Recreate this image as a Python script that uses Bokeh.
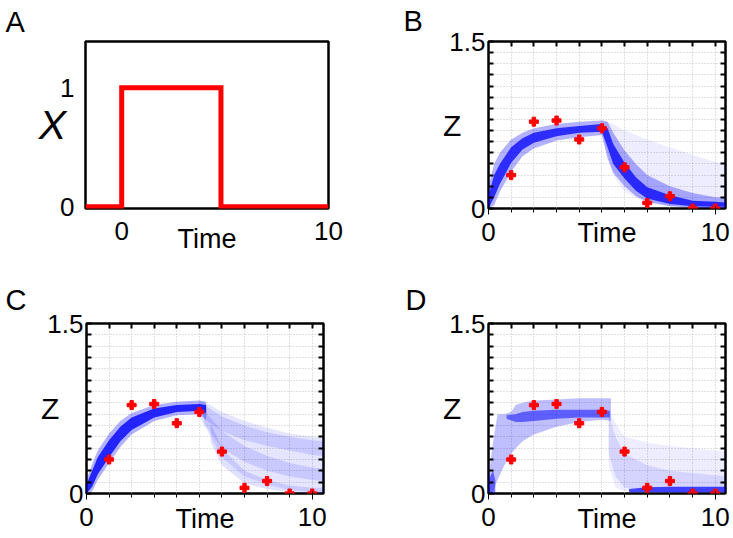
from bokeh.plotting import figure
from bokeh.models import FixedTicker, LinearAxis, Range1d, NumeralTickFormatter, Title
from bokeh.layouts import column, row
from bokeh.embed import file_html
from bokeh.resources import INLINE

FONT = "Liberation Sans"
BLUE = "#0000ff"
RED = "#ff0000"

# ---------------- data ----------------
# Panel A: input pulse X(t)
pulse_time = [-1.75, 0, 0, 4.8, 4.8, 10]
pulse_x = [0, 0, 1, 1, 0, 0]

# Observations (same in B, C, D)
obs_time = [1, 2, 3, 4, 5, 6, 7, 8, 9, 10]
obs_z = [0.30, 0.78, 0.79, 0.62, 0.72, 0.37, 0.05, 0.11, 0.0, 0.0]

# ticks
a_time_ticks = [0, 10]
a_x_ticks = [0, 1]
time_ticks = [0, 10]
time_minor = [1, 2, 3, 4, 5, 6, 7, 8, 9]
z_ticks = [0, 1.5]
z_minor = [0.1, 0.2, 0.3, 0.4, 0.5, 0.6, 0.7, 0.8, 0.9, 1.0, 1.1, 1.2, 1.3, 1.4]

# Panel B: posterior trajectory density
b_core_t = [0, 0.25, 0.5, 1, 1.5, 2, 3, 4, 5, 5.25, 5.5, 6, 6.5, 7, 8, 9, 10, 10.45]
b_core_lo = [0.0, 0.10, 0.22, 0.41, 0.53, 0.59, 0.65, 0.68, 0.69, 0.55, 0.40, 0.27, 0.16, 0.09, 0.04, 0.02, 0.015, 0.015]
b_core_hi = [0.12, 0.30, 0.40, 0.55, 0.63, 0.68, 0.72, 0.74, 0.76, 0.72, 0.58, 0.41, 0.28, 0.19, 0.12, 0.07, 0.06, 0.055]
b_halo_lo = [0.0, 0.03, 0.15, 0.33, 0.47, 0.54, 0.61, 0.64, 0.66, 0.45, 0.32, 0.20, 0.11, 0.06, 0.02, 0.01, 0.005, 0.005]
b_halo_hi = [0.20, 0.40, 0.50, 0.62, 0.68, 0.72, 0.76, 0.78, 0.79, 0.78, 0.68, 0.52, 0.40, 0.30, 0.20, 0.14, 0.10, 0.10]
b_haze_t = [5, 5.5, 6, 7, 8, 9, 10, 10.45]
b_haze_lo = [0.66, 0.30, 0.15, 0.05, 0.02, 0.01, 0.0, 0.0]
b_haze_hi = [0.80, 0.76, 0.70, 0.62, 0.55, 0.48, 0.42, 0.40]

# Panel C
c_core_t = [0, 0.25, 0.5, 1, 1.5, 2, 3, 4, 5, 5.3]
c_core_lo = [0.0, 0.06, 0.17, 0.32, 0.46, 0.56, 0.67, 0.72, 0.73, 0.71]
c_core_hi = [0.08, 0.20, 0.32, 0.47, 0.59, 0.67, 0.75, 0.78, 0.79, 0.78]
c_halo_lo = [0.0, 0.02, 0.12, 0.27, 0.41, 0.52, 0.64, 0.69, 0.70, 0.65]
c_halo_hi = [0.12, 0.26, 0.38, 0.53, 0.64, 0.71, 0.78, 0.81, 0.82, 0.81]
c_haze_t = [5, 5.5, 6, 7, 8, 9, 10, 10.5]
c_haze_lo = [0.68, 0.50, 0.32, 0.15, 0.08, 0.03, 0.015, 0.01]
c_haze_hi = [0.82, 0.78, 0.72, 0.64, 0.58, 0.53, 0.50, 0.49]
c_streak_t = [5.2, 6, 7, 8, 9, 10, 10.5]
c_up_lo = [0.66, 0.55, 0.47, 0.42, 0.38, 0.34, 0.33]
c_up_hi = [0.78, 0.68, 0.60, 0.54, 0.50, 0.47, 0.46]
c_mid_lo = [0.62, 0.40, 0.28, 0.20, 0.15, 0.12, 0.11]
c_mid_hi = [0.74, 0.55, 0.42, 0.33, 0.27, 0.23, 0.22]
c_low_t = [5.5, 6, 7, 8, 9, 10, 10.5]
c_low_lo = [0.45, 0.25, 0.09, 0.04, 0.01, 0.005, 0.005]
c_low_hi = [0.62, 0.40, 0.20, 0.12, 0.07, 0.05, 0.05]

# Panel D
d_wide_t = [0, 0.2, 0.4, 0.7, 1.0, 1.2, 1.5, 2, 3, 4, 5, 5.4]
d_wide_lo = [0.0, 0.02, 0.12, 0.25, 0.35, 0.40, 0.46, 0.52, 0.59, 0.63, 0.65, 0.64]
d_wide_hi = [0.15, 0.45, 0.70, 0.70, 0.72, 0.78, 0.80, 0.82, 0.83, 0.84, 0.84, 0.84]
d_core_t = [0.8, 1.2, 1.5, 2, 3, 4, 5, 5.35]
d_core_lo = [0.66, 0.63, 0.63, 0.64, 0.66, 0.67, 0.67, 0.67]
d_core_hi = [0.69, 0.70, 0.72, 0.73, 0.74, 0.74, 0.74, 0.73]
d_spike_t = [0, 0.1, 0.2, 0.3]
d_spike_lo = [0.0, 0.0, 0.0, 0.0]
d_spike_hi = [0.12, 0.16, 0.20, 0.12]
d_decay_t = [5.3, 5.6, 6, 7, 8, 9, 10, 10.45]
d_decay_lo = [0.25, 0.05, 0.02, 0.01, 0.0, 0.0, 0.0, 0.0]
d_decay_hi = [0.74, 0.62, 0.50, 0.45, 0.42, 0.40, 0.38, 0.37]
d_mid_lo = [0.35, 0.15, 0.05, 0.02, 0.01, 0.01, 0.01, 0.01]
d_mid_hi = [0.70, 0.50, 0.35, 0.25, 0.20, 0.18, 0.16, 0.15]
d_floor_t = [6.2, 7, 8, 9, 10, 10.45]
d_floor_lo = [0.01, 0.01, 0.01, 0.01, 0.01, 0.01]
d_floor_hi = [0.04, 0.055, 0.06, 0.06, 0.06, 0.06]

# ---------------- layout geometry (canvas px, page origin at 0,0) ----------------
GEOM = {
    "A": dict(origin=(0, 0), size=(368, 275), frame=(85, 39, 328, 208), xr=(-1.75, 10), yr=(-0.015, 1.39)),
    "B": dict(origin=(368, 0), size=(364, 275), frame=(488, 41, 725, 210), xr=(0, 10.45), yr=(0, 1.5)),
    "C": dict(origin=(0, 275), size=(368, 261), frame=(86, 323, 323, 493), xr=(0, 10.5), yr=(0, 1.5)),
    "D": dict(origin=(368, 275), size=(364, 261), frame=(488, 323, 725, 493), xr=(0, 10.45), yr=(0, 1.5)),
}


def make_fig(key, letter, letter_left, letter_standoff):
    g = GEOM[key]
    ox, oy = g["origin"]
    w, h = g["size"]
    left, top, right, bottom = g["frame"]
    p = figure(width=w, height=h, x_range=Range1d(*g["xr"]), y_range=Range1d(*g["yr"]),
               output_backend="svg", toolbar_location=None,
               min_border_left=left - ox, min_border_right=ox + w - right,
               min_border_top=top - oy, min_border_bottom=oy + h - bottom)
    p.title = Title(text=letter, align="left", vertical_align="top", offset=letter_left - left,
                    standoff=letter_standoff, text_font=FONT, text_font_size="29px",
                    text_font_style="normal", text_color="black")
    p.outline_line_color = "black"
    p.outline_line_width = 2.5
    p.outline_line_alpha = 1.0
    p.background_fill_color = "white"
    p.border_fill_color = "white"
    return p


def style_axis(ax, standoff):
    ax.axis_line_color = None
    ax.major_label_text_font = FONT
    ax.major_label_text_font_size = "26px"
    ax.major_label_text_color = "black"
    ax.major_label_standoff = standoff


def set_label(ax, text, size, standoff, style="normal", horizontal=False):
    ax.axis_label = text
    ax.axis_label_text_font = FONT
    ax.axis_label_text_font_size = size
    ax.axis_label_text_font_style = style
    ax.axis_label_text_color = "black"
    ax.axis_label_standoff = standoff
    if horizontal:
        try:
            ax.axis_label_orientation = "horizontal"
        except Exception:
            pass


# ---------------- Panel A ----------------
pA = make_fig("A", "A", 5, 4)
pA.line(pulse_time, pulse_x, line_color=RED, line_width=5, line_join="miter")
pA.xaxis.ticker = FixedTicker(ticks=a_time_ticks)
pA.yaxis.ticker = FixedTicker(ticks=a_x_ticks)
style_axis(pA.xaxis[0], 7)
style_axis(pA.yaxis[0], 5)
for ax in (pA.xaxis[0], pA.yaxis[0]):
    ax.major_tick_line_color = None
    ax.minor_tick_line_color = None
set_label(pA.xaxis[0], "Time", "27px", -19)
set_label(pA.yaxis[0], "X", "41px", -9, style="italic", horizontal=True)
pA.grid.visible = False


# ---------------- Panels B-D common ----------------
def z_panel(key, letter, letter_left, letter_standoff, time_standoff):
    p = make_fig(key, letter, letter_left, letter_standoff)
    p.xaxis.ticker = FixedTicker(ticks=time_ticks, minor_ticks=time_minor)
    p.yaxis.ticker = FixedTicker(ticks=z_ticks, minor_ticks=z_minor)
    p.yaxis.formatter = NumeralTickFormatter(format="0.[0]")
    style_axis(p.xaxis[0], 8)
    style_axis(p.yaxis[0], 3)
    set_label(p.xaxis[0], "Time", "27px", time_standoff)
    set_label(p.yaxis[0], "Z", "30px", -15, horizontal=True)
    top_ax = LinearAxis(ticker=FixedTicker(ticks=[], minor_ticks=time_minor + [10]))
    right_ax = LinearAxis(ticker=FixedTicker(ticks=[], minor_ticks=z_minor))
    for ax in (top_ax, right_ax):
        ax.axis_line_color = None
        ax.major_label_standoff = 0
        ax.major_label_text_font_size = "0px"
    p.add_layout(top_ax, "above")
    p.add_layout(right_ax, "right")
    for ax in (p.xaxis[0], p.yaxis[0], top_ax, right_ax):
        ax.major_tick_in = 5
        ax.major_tick_out = 0
        ax.minor_tick_in = 5
        ax.minor_tick_out = 0
        ax.major_tick_line_width = 2
        ax.minor_tick_line_width = 2
        ax.major_tick_line_color = "black"
        ax.minor_tick_line_color = "black"
    for gr in (p.xgrid[0], p.ygrid[0]):
        gr.grid_line_color = "#c2c2c2"
        gr.grid_line_dash = "1 2"
        gr.grid_line_width = 1
        gr.minor_grid_line_color = "#c2c2c2"
        gr.minor_grid_line_dash = "1 2"
        gr.minor_grid_line_width = 1
    return p


def band(p, t, lo, hi, alpha):
    p.varea(x=t, y1=lo, y2=hi, fill_color=BLUE, fill_alpha=alpha)


def obs(p):
    p.scatter(obs_time, obs_z, marker="plus", size=9, fill_color=RED, line_color=RED, line_width=1)


# Panel B
pB = z_panel("B", "B", 403, 5, -26)
band(pB, b_haze_t, b_haze_lo, b_haze_hi, 0.07)
band(pB, b_core_t, b_halo_lo, b_halo_hi, 0.3)
band(pB, b_core_t, b_core_lo, b_core_hi, 0.75)
obs(pB)

# Panel C
pC = z_panel("C", "C", 5, 11, -25)
band(pC, c_haze_t, c_haze_lo, c_haze_hi, 0.1)
band(pC, c_streak_t, c_up_lo, c_up_hi, 0.12)
band(pC, c_streak_t, c_mid_lo, c_mid_hi, 0.12)
band(pC, c_low_t, c_low_lo, c_low_hi, 0.12)
band(pC, c_core_t, c_halo_lo, c_halo_hi, 0.3)
band(pC, c_core_t, c_core_lo, c_core_hi, 0.8)
obs(pC)

# Panel D
pD = z_panel("D", "D", 405, 11, -25)
band(pD, d_decay_t, d_decay_lo, d_decay_hi, 0.07)
band(pD, d_decay_t, d_mid_lo, d_mid_hi, 0.1)
band(pD, d_wide_t, d_wide_lo, d_wide_hi, 0.25)
band(pD, d_core_t, d_core_lo, d_core_hi, 0.5)
band(pD, d_spike_t, d_spike_lo, d_spike_hi, 0.5)
band(pD, d_floor_t, d_floor_lo, d_floor_hi, 0.7)
obs(pD)

layout = column(row(pA, pB), row(pC, pD))
open("out.html", "w").write(file_html(layout, INLINE))
